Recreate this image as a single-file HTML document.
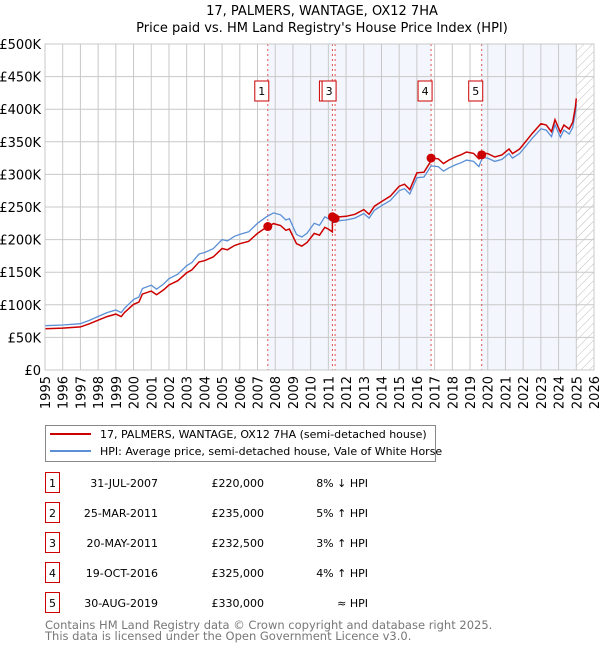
<!DOCTYPE html>
<html><head><meta charset="utf-8"><style>
body{margin:0;background:#fff;font-family:"DejaVu Sans","Liberation Sans",sans-serif;}
svg text{font-family:"DejaVu Sans","Liberation Sans",sans-serif;}
</style></head><body>
<svg id="c" width="600" height="650" xmlns="http://www.w3.org/2000/svg">
<text x="322" y="15" text-anchor="middle" font-size="13">17, PALMERS, WANTAGE, OX12 7HA</text>
<text x="322" y="32" text-anchor="middle" font-size="13">Price paid vs. HM Land Registry's House Price Index (HPI)</text>
<g id="plot"></g>
<g>
<rect x="45.5" y="425.5" width="390" height="36" fill="#fff" stroke="#888"/>
<line x1="50" y1="434" x2="91" y2="434" stroke="#cc0000" stroke-width="2"/>
<text x="100" y="438" font-size="11">17, PALMERS, WANTAGE, OX12 7HA (semi-detached house)</text>
<line x1="50" y1="451" x2="91" y2="451" stroke="#5b8fd6" stroke-width="2"/>
<text x="100" y="455" font-size="11">HPI: Average price, semi-detached house, Vale of White Horse</text>
</g>
<g id="tbl" font-size="11"></g>
<text x="45" y="629" font-size="11.5" fill="#777">Contains HM Land Registry data © Crown copyright and database right 2025.</text>
<text x="45" y="640" font-size="11.5" fill="#777">This data is licensed under the Open Government Licence v3.0.</text>
</svg>
<script>
const hpiT=[1995,1996,1997,1997.5,1998,1998.5,1999,1999.3,1999.5,2000,2000.3,2000.5,2001,2001.3,2001.7,2002,2002.5,2003,2003.3,2003.7,2004,2004.5,2005,2005.3,2005.7,2006,2006.5,2007,2007.5,2007.9,2008.3,2008.6,2008.8,2009.2,2009.5,2009.8,2010.2,2010.5,2010.8,2011.0,2011.3,2011.6,2012,2012.5,2013,2013.3,2013.6,2014,2014.5,2015,2015.3,2015.6,2016,2016.4,2016.8,2017.2,2017.5,2017.8,2018.2,2018.5,2018.8,2019.2,2019.5,2019.7,2020,2020.4,2020.8,2021.2,2021.4,2021.8,2022.2,2022.5,2023,2023.3,2023.6,2023.8,2024.1,2024.3,2024.6,2024.8,2024.95,2025.0];
const hpiV=[68,69,71,76,82,88,92,88,95,108,112,125,130,124,132,140,147,160,165,178,180,186,200,198,205,208,212,225,235,241,238,230,232,208,204,210,225,222,235,232,226,229,230,233,240,233,245,252,260,275,278,270,295,296,313,312,305,310,315,318,322,320,312,326,325,320,323,332,325,332,345,355,370,368,358,376,357,368,362,372,395,408];
const saleT=[2007.58,2011.23,2011.38,2016.8,2019.66];
const saleP=[220000,235000,232500,325000,330000];
const saleDate=["31-JUL-2007","25-MAR-2011","20-MAY-2011","19-OCT-2016","30-AUG-2019"];
const salePrice=["£220,000","£235,000","£232,500","£325,000","£330,000"];
const saleRel=["8% ↓ HPI","5% ↑ HPI","3% ↑ HPI","4% ↑ HPI","≈ HPI"];
const yTicks=[0,50,100,150,200,250,300,350,400,450,500];
const yLabels=["£0","£50K","£100K","£150K","£200K","£250K","£300K","£350K","£400K","£450K","£500K"];
const xYears=[1995,1996,1997,1998,1999,2000,2001,2002,2003,2004,2005,2006,2007,2008,2009,2010,2011,2012,2013,2014,2015,2016,2017,2018,2019,2020,2021,2022,2023,2024,2025,2026];

const L=45,R=594,T=44,B=370,ns="http://www.w3.org/2000/svg";
const X=t=>L+(t-1995)/31*(R-L);
const Y=v=>B-v/500*(B-T);
const P=document.getElementById('plot');
function mk(tag,a,parent){const e=document.createElementNS(ns,tag);for(const k in a)e.setAttribute(k,a[k]);(parent||P).appendChild(e);return e;}
function hpiAt(t){for(let i=1;i<hpiT.length;i++){if(t<=hpiT[i]){const f=(t-hpiT[i-1])/(hpiT[i]-hpiT[i-1]);return hpiV[i-1]+f*(hpiV[i]-hpiV[i-1]);}}return hpiV[hpiV.length-1];}
const defs=mk('defs',{});
const pat=mk('pattern',{id:'h',width:6,height:6,patternUnits:'userSpaceOnUse',patternTransform:'rotate(45)'},defs);
mk('line',{x1:0,y1:0,x2:0,y2:6,stroke:'#bbb','stroke-width':1},pat);
const bounds=saleT.concat([2025.0]);
for(let i=0;i<bounds.length-1;i+=2){const r=mk('rect',{x:X(bounds[i]),y:T,width:X(bounds[i+1])-X(bounds[i]),height:B-T,fill:'#f3f6fd'});

}
const hr=mk('rect',{x:X(2025.0),y:T,width:R-X(2025.0),height:B-T,fill:'url(#h)'});


yTicks.forEach((v,i)=>{const g=mk('line',{x1:L,x2:R,y1:Y(v),y2:Y(v),stroke:'#c8c8c8','stroke-width':1});


const t=mk('text',{x:L-4,y:Y(v)+5,'text-anchor':'end','font-size':13});t.textContent=yLabels[i];

});
xYears.forEach(yr=>{const g=mk('line',{x1:X(yr),x2:X(yr),y1:T,y2:B,stroke:'#c8c8c8','stroke-width':1});


const t=mk('text',{x:0,y:0,'text-anchor':'end','font-size':13,transform:`translate(${X(yr)+5},${B+6}) rotate(-90)`});t.textContent=yr;

});
saleT.forEach((t,i)=>{const l=mk('line',{x1:X(t),x2:X(t),y1:T,y2:B,stroke:'#e05050','stroke-width':1,'stroke-dasharray':'2,3'});


const bx=X(t)-13;const b=mk('rect',{x:bx,y:81,width:14,height:20,fill:'#fff',stroke:'#cc0000'});


const tx=mk('text',{x:bx+7,y:95,'text-anchor':'middle','font-size':11});tx.textContent=i+1;

});
let d='';hpiT.forEach((t,i)=>{d+=(i?'L':'M')+X(t).toFixed(1)+','+Y(hpiV[i]).toFixed(1);});
const hl=mk('path',{d:d,fill:'none',stroke:'#5b8fd6','stroke-width':1.3});


function factorAt(t){let k=0;for(let i=0;i<saleT.length;i++)if(t>=saleT[i])k=i;return saleP[k]/1000/hpiAt(saleT[k]);}
const pts=[];hpiT.forEach((t,i)=>pts.push([t,hpiV[i]]));saleT.forEach(t=>{pts.push([t-0.001,hpiAt(t)]);pts.push([t,hpiAt(t)]);});
pts.sort((a,b)=>a[0]-b[0]);
let d2='';pts.forEach((p,i)=>{d2+=(i?'L':'M')+X(p[0]).toFixed(1)+','+Y(p[1]*factorAt(p[0])).toFixed(1);});
const pl=mk('path',{d:d2,fill:'none',stroke:'#cc0000','stroke-width':1.5});


saleT.forEach((t,i)=>{const c=mk('circle',{cx:X(t),cy:Y(saleP[i]/1000),r:4.5,fill:'#cc0000'});

});
mk('rect',{x:L,y:T,width:R-L,height:B-T,fill:'none',stroke:'#c8c8c8'});
const TB=document.getElementById('tbl');
saleT.forEach((t,i)=>{const y=483+i*30;
const b=mk('rect',{x:45.5,y:y-10.5,width:14,height:20,fill:'#fff',stroke:'#cc0000'},TB);


const n=mk('text',{x:52.5,y:y+4,'text-anchor':'middle'},TB);n.textContent=i+1;


const a=mk('text',{x:158,y:y+4,'text-anchor':'end'},TB);a.textContent=saleDate[i];


const p=mk('text',{x:264,y:y+4,'text-anchor':'end'},TB);p.textContent=salePrice[i];


const r=mk('text',{x:368,y:y+4,'text-anchor':'end'},TB);r.textContent=saleRel[i];

});
</script>
</body></html>
